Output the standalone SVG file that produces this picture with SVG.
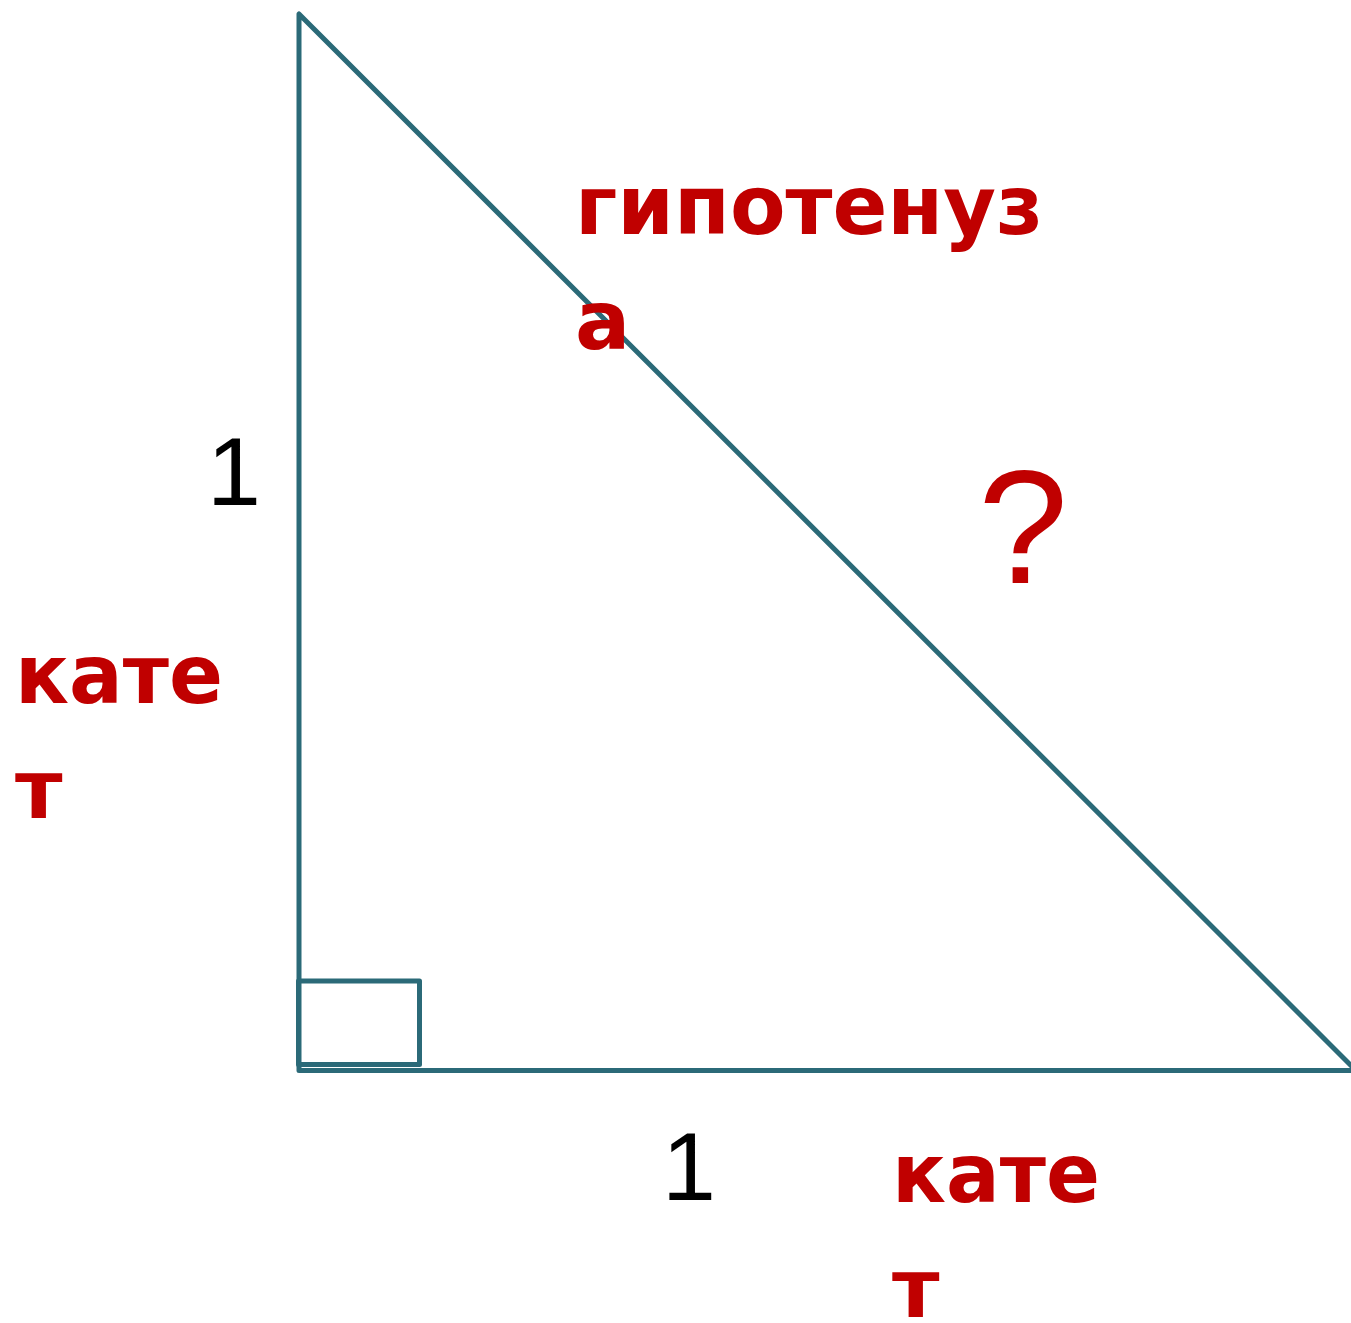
<svg xmlns="http://www.w3.org/2000/svg" width="1351" height="1323" viewBox="0 0 1351 1323">
<style>
.edge{fill:none;stroke:#2B6A78;stroke-width:5;stroke-linejoin:round;stroke-linecap:round}
.lbl{font-family:'DejaVu Sans',Verdana,sans-serif;font-weight:bold;font-size:82px;fill:#C00000}
.num{font-size:97px;fill:#000000}
.q{font-size:162px;fill:#C00000}
</style>
<rect width="1351" height="1323" fill="#ffffff"/>
<g id="connectors">
<path class="edge" d="M299,14 L299,1070.5 L1356,1070.5 Z"/>
<rect class="edge" x="298.5" y="981" width="121" height="83.5"/>
</g>
<g id="hypotenuse-label">
<text class="lbl" x="575" y="234" textLength="468" lengthAdjust="spacingAndGlyphs">гипотенуз</text>
<text class="lbl" x="575" y="349">а</text>
</g>
<g id="question">
<text class="q" font-family="Liberation Sans" x="978" y="583">?</text>
</g>
<g id="left-labels">
<text class="num" font-family="Liberation Sans" x="207" y="505">1</text>
<text class="lbl" x="15" y="703" textLength="208" lengthAdjust="spacingAndGlyphs">кате</text>
<text class="lbl" x="15" y="818">т</text>
</g>
<g id="bottom-labels">
<text class="num" font-family="Liberation Sans" x="662" y="1200">1</text>
<text class="lbl" x="892" y="1202" textLength="208" lengthAdjust="spacingAndGlyphs">кате</text>
<text class="lbl" x="892" y="1317">т</text>
</g>
</svg>
